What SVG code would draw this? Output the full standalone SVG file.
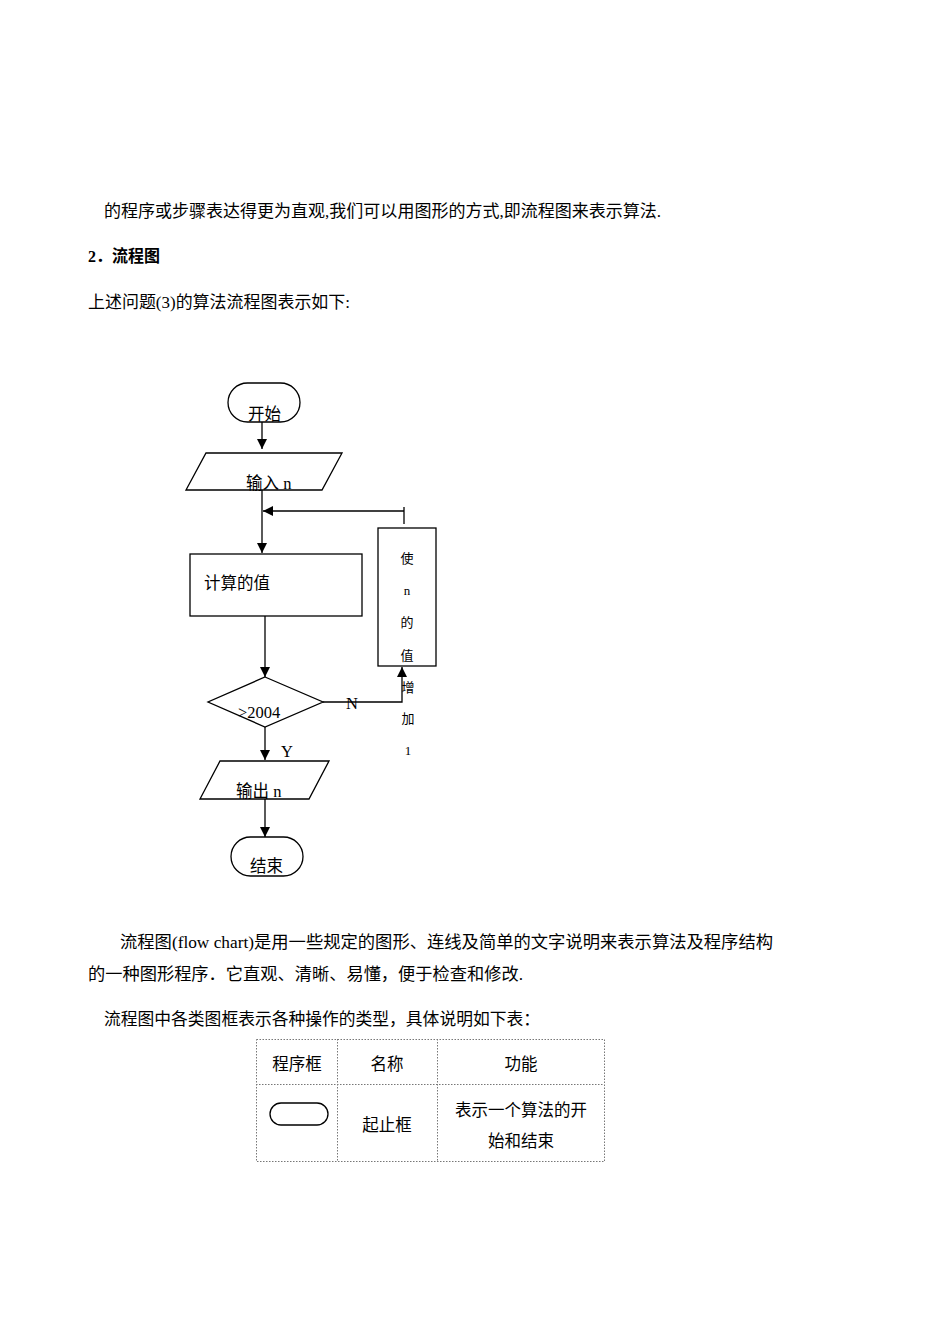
<svg xmlns="http://www.w3.org/2000/svg" width="950" height="1344" viewBox="0 0 950 1344">
<defs>
<style>
.t{font-family:"Liberation Serif","Noto Sans CJK SC",serif;font-size:16.5px;fill:#000}
.b{font-family:"Liberation Serif","Noto Sans CJK SC",serif;font-size:16.5px;font-weight:bold;fill:#000}
.s{font-family:"Liberation Serif","Noto Sans CJK SC",serif;font-size:13px;fill:#000}
.sh{fill:#fff;stroke:#000;stroke-width:1.3}
.ln{fill:none;stroke:#000;stroke-width:1.3}
.tb{fill:none;stroke:#777;stroke-width:1;stroke-dasharray:1.5 1.5}
</style>
<marker id="ah" viewBox="0 0 10 10" refX="10" refY="5" markerWidth="10" markerHeight="10" markerUnits="userSpaceOnUse" orient="auto">
<path d="M0,0 L10,5 L0,10 z" fill="#000"/>
</marker>
</defs>
<rect width="950" height="1344" fill="#fff"/>

<g id="intro">
<text class="t" x="104" y="217" textLength="557" lengthAdjust="spacingAndGlyphs">的程序或步骤表达得更为直观,我们可以用图形的方式,即流程图来表示算法.</text>
<text class="b" x="88" y="262" textLength="72" lengthAdjust="spacingAndGlyphs">2．流程图</text>
<text class="t" x="88" y="308" textLength="262" lengthAdjust="spacingAndGlyphs">上述问题(3)的算法流程图表示如下:</text>
</g>

<g id="connectors">
<line class="ln" x1="262" y1="422" x2="262" y2="449" marker-end="url(#ah)"/>
<line class="ln" x1="262" y1="490" x2="262" y2="553" marker-end="url(#ah)"/>
<line class="ln" x1="404" y1="511" x2="263" y2="511" marker-end="url(#ah)"/>
<line class="ln" x1="404" y1="507" x2="404" y2="524"/>
<line class="ln" x1="265" y1="616" x2="265" y2="677" marker-end="url(#ah)"/>
<polyline class="ln" points="323,702 402,702 402,667" marker-end="url(#ah)"/>
<line class="ln" x1="265" y1="727" x2="265" y2="760" marker-end="url(#ah)"/>
<line class="ln" x1="265" y1="799" x2="265" y2="837" marker-end="url(#ah)"/>
<text class="t" x="346" y="709">N</text>
<text class="t" x="281" y="757">Y</text>
</g>

<g id="start">
<rect class="sh" x="228" y="383" width="72" height="39" rx="19.5"/>
<text class="t" x="248" y="420">开始</text>
</g>

<g id="input">
<polygon class="sh" points="206,453 342,453 322,490 186,490"/>
<text class="t" x="246" y="489">输入 n</text>
</g>

<g id="calc">
<rect class="sh" x="190" y="554" width="172" height="62"/>
<text class="t" x="204" y="589">计算的值</text>
</g>

<g id="incr">
<rect class="sh" x="378" y="528" width="58" height="138"/>
<text class="s" x="407" y="563" text-anchor="middle">使</text>
<text class="s" x="407" y="595" text-anchor="middle">n</text>
<text class="s" x="407" y="627" text-anchor="middle">的</text>
<text class="s" x="407" y="660" text-anchor="middle">值</text>
<text class="s" x="408" y="692" text-anchor="middle">增</text>
<text class="s" x="408" y="723" text-anchor="middle">加</text>
<text class="s" x="408" y="755" text-anchor="middle">1</text>
</g>

<g id="decision">
<polygon class="sh" points="265,677 323,702 265,727 208,702"/>
<text class="t" x="238" y="718">&gt;2004</text>
</g>

<g id="output">
<polygon class="sh" points="220,761 329,761 309,799 200,799"/>
<text class="t" x="236" y="797">输出 n</text>
</g>

<g id="end">
<rect class="sh" x="231" y="837" width="72" height="39" rx="19.5"/>
<text class="t" x="250" y="872">结束</text>
</g>

<g id="body">
<text class="t" x="120" y="948" textLength="653" lengthAdjust="spacingAndGlyphs">流程图(flow chart)是用一些规定的图形、连线及简单的文字说明来表示算法及程序结构</text>
<text class="t" x="88" y="980" textLength="435" lengthAdjust="spacingAndGlyphs">的一种图形程序．它直观、清晰、易懂，便于检查和修改.</text>
<text class="t" x="104" y="1025" textLength="436" lengthAdjust="spacingAndGlyphs">流程图中各类图框表示各种操作的类型，具体说明如下表：</text>
</g>

<g id="table">
<rect class="tb" x="256.5" y="1039.5" width="348" height="122"/>
<line class="tb" x1="256" y1="1084.5" x2="604" y2="1084.5"/>
<line class="tb" x1="337.5" y1="1039" x2="337.5" y2="1162"/>
<line class="tb" x1="437.5" y1="1039" x2="437.5" y2="1162"/>
<text class="t" x="297" y="1070" text-anchor="middle">程序框</text>
<text class="t" x="387" y="1070" text-anchor="middle">名称</text>
<text class="t" x="521" y="1070" text-anchor="middle">功能</text>
<rect class="sh" x="270" y="1103" width="58" height="22" rx="11"/>
<text class="t" x="387" y="1131" text-anchor="middle">起止框</text>
<text class="t" x="521" y="1116" text-anchor="middle">表示一个算法的开</text>
<text class="t" x="521" y="1147" text-anchor="middle">始和结束</text>
</g>
</svg>
